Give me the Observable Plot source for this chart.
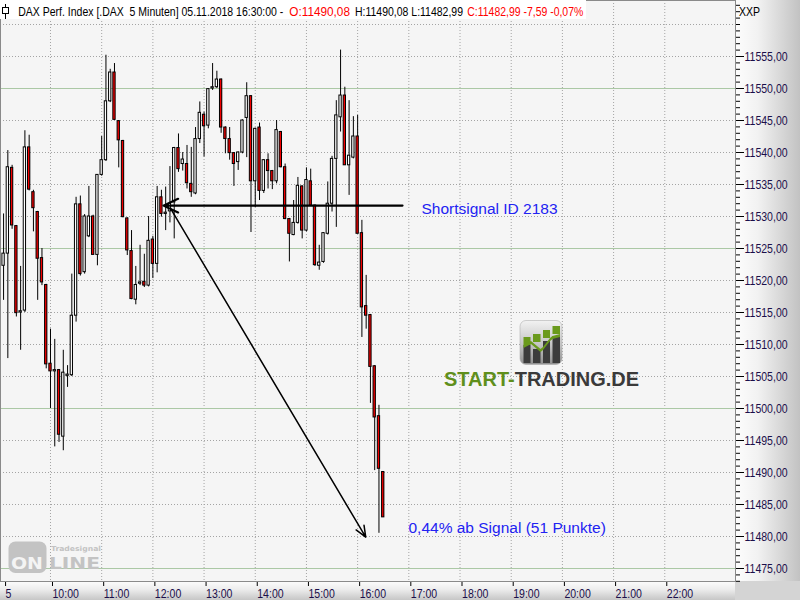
<!DOCTYPE html>
<html><head><meta charset="utf-8">
<script src="https://cdn.jsdelivr.net/npm/d3@7"></script>
<script src="https://cdn.jsdelivr.net/npm/@observablehq/plot@0.6"></script>
<style>
body{margin:0;background:#fff;}
#wrap{position:relative;width:800px;height:600px;overflow:hidden;font-family:"Liberation Sans",Arial,sans-serif;}
#rpanel{position:absolute;left:735px;top:0;width:65px;height:581px;background:linear-gradient(to right,#fdfdfd,#f2f2f2 35%,#c2c2c2);}
#bpanel{position:absolute;left:0;top:581px;width:735px;height:19px;background:linear-gradient(to bottom,#fdfdfd,#ececec 45%,#c6c6c6);}
#corner{position:absolute;left:735px;top:581px;width:65px;height:19px;background:#d4d4d4;}
#chart{position:absolute;left:0;top:0;}
#overlay{position:absolute;left:0;top:0;pointer-events:none;}
</style></head>
<body>
<div id="wrap">
<div id="rpanel"></div><div id="bpanel"></div><div id="corner"></div>
<div id="chart"></div>
<svg id="overlay" width="800" height="600" xmlns="http://www.w3.org/2000/svg">
  <defs>
    <linearGradient id="ic" x1="0" y1="0" x2="0" y2="1">
      <stop offset="0" stop-color="#f2f2f2"/><stop offset="0.55" stop-color="#c4c4c4"/><stop offset="1" stop-color="#8e8e8e"/>
    </linearGradient>
  </defs>
  <rect x="0" y="0" width="586" height="19" fill="#fff"/>
  <line x1="5.5" y1="4" x2="5.5" y2="19" stroke="#000"/>
  <rect x="2.5" y="7.5" width="6" height="6" fill="#fff" stroke="#000"/>
  <g font-size="10.5" font-family="Liberation Sans, Arial" transform="translate(0,16.3) scale(1,1.24)">
    <text x="18.3" y="0" fill="#000" textLength="265" lengthAdjust="spacingAndGlyphs" style="white-space:pre">DAX Perf. Index [.DAX  5 Minuten] 05.11.2018 16:30:00 -</text>
    <text x="289.3" y="0" fill="#f00" textLength="60.7" lengthAdjust="spacingAndGlyphs">O:11490,08</text>
    <text x="355" y="0" fill="#000" textLength="108" lengthAdjust="spacingAndGlyphs">H:11490,08 L:11482,99</text>
    <text x="467.3" y="0" fill="#f00" textLength="116" lengthAdjust="spacingAndGlyphs">C:11482,99 -7,59 -0,07%</text>
  </g>
  <text x="739" y="15.5" font-size="13" font-family="Liberation Sans, Arial" fill="#000" textLength="21" lengthAdjust="spacingAndGlyphs">XXP</text>
  <!-- start-trading logo -->
  <rect x="520" y="320.5" width="42" height="44" rx="6" fill="url(#ic)" stroke="#b0b0b0" stroke-width="0.6"/>
  <rect x="523.5" y="337" width="7" height="8" fill="#6a9a1c"/><rect x="523.5" y="345" width="7" height="18" fill="#3c3c3c"/>
  <rect x="533" y="334" width="7.5" height="8" fill="#6a9a1c"/><rect x="533" y="349" width="7.5" height="14" fill="#3c3c3c"/>
  <rect x="543" y="330" width="7" height="8" fill="#6a9a1c"/><rect x="543" y="341" width="7" height="22" fill="#3c3c3c"/>
  <rect x="552.5" y="326" width="7.5" height="8" fill="#6a9a1c"/><rect x="552.5" y="336" width="7.5" height="27" fill="#3c3c3c"/>
  <polygon points="523.5,345 531,341 540.5,349 543,347 550,338 552.5,336 560,334 560,337 552.5,339 550,341 543,350 540.5,352 531,344 523.5,348" fill="#6a9a1c"/>
  <text x="444" y="385.5" font-size="21" font-weight="bold" font-family="Liberation Sans, Arial" textLength="195" lengthAdjust="spacingAndGlyphs"><tspan fill="#5f8f1c">START-</tspan><tspan fill="#3a3a3a">TRADING.DE</tspan></text>
  <!-- tradesignal online watermark -->
  <rect x="8.5" y="541.5" width="38" height="31.5" rx="7" fill="#c3c3c3"/>
  <text x="11" y="569" font-size="16" font-weight="bold" font-family="DejaVu Sans, Arial" fill="#f4f4f4" textLength="32" lengthAdjust="spacingAndGlyphs">ON</text>
  <text x="49" y="569" font-size="16" font-weight="bold" font-family="DejaVu Sans, Arial" fill="#c3c3c3" textLength="51" lengthAdjust="spacingAndGlyphs">LINE</text>
  <text x="51" y="551" font-size="7" font-weight="bold" font-family="DejaVu Sans, Arial" fill="#c3c3c3" textLength="50" lengthAdjust="spacingAndGlyphs">Tradesignal</text>
</svg>
</div>
<script>
// 5-minute bars of 05.11.2018, first bar 09:05, last bar 16:30
const firstBarMinute = 9 * 60 + 5;
const barStep = 5;
const open = [11522.3,11524.2,11537.6,11528.5,11515.0,11515.3,11540.8,11533.8,11530.7,11523.5,
 11519.3,11507.0,11505.8,11506.0,11495.6,11505.1,11505.2,11514.5,11531.9,11521.3,
 11526.9,11530.0,11524.0,11536.5,11538.8,11548.0,11552.5,11544.9,11541.8,11529.7,
 11524.6,11517.0,11519.5,11519.8,11519.2,11526.4,11522.6,11533.0,11530.4,11530.8,
 11532.2,11540.7,11538.2,11538.2,11535.1,11533.6,11542.1,11545.9,11544.2,11550.0,
 11550.2,11551.4,11543.9,11542.1,11539.9,11538.5,11540.0,11545.4,11548.8,11535.5,
 11543.9,11534.0,11538.8,11537.1,11535.5,11543.2,11537.7,11529.6,11527.1,11529.0,
 11534.7,11527.8,11535.5,11531.7,11522.3,11522.9,11527.3,11532.0,11539.0,11545.5,
 11548.9,11538.0,11539.2,11542.5,11527.4,11516.0,11514.6,11506.6,11498.8,11490.08];
const high = [11530.4,11540.3,11538.0,11528.6,11522.2,11543.4,11542.7,11534.1,11530.8,11525.0,
 11519.4,11512.4,11510.8,11506.1,11509.1,11506.7,11521.0,11533.0,11533.2,11530.3,
 11534.7,11530.2,11536.5,11542.5,11555.2,11553.0,11553.9,11545.0,11541.9,11529.8,
 11527.8,11522.2,11525.5,11524.1,11530.0,11526.9,11534.7,11534.1,11534.6,11537.8,
 11540.8,11542.9,11540.0,11541.1,11540.8,11543.9,11547.9,11546.3,11550.0,11553.9,
 11552.7,11551.5,11544.0,11543.9,11540.0,11540.1,11545.1,11550.9,11548.9,11543.8,
 11544.6,11538.9,11539.8,11537.2,11545.0,11543.3,11538.2,11529.7,11532.5,11536.1,
 11534.8,11537.6,11537.4,11531.8,11525.5,11527.5,11535.4,11539.4,11548.1,11556.0,
 11550.2,11548.1,11545.6,11545.8,11529.4,11520.8,11514.7,11506.7,11500.5,11490.08];
const low = [11516.9,11507.8,11528.0,11514.3,11509.1,11515.0,11534.0,11527.6,11516.9,11519.2,
 11506.2,11500.0,11494.0,11494.7,11493.4,11503.3,11505.0,11513.5,11520.7,11521.0,
 11526.7,11524.0,11522.3,11536.3,11538.6,11547.8,11545.0,11537.6,11529.8,11523.9,
 11517.0,11516.2,11519.2,11518.9,11519.0,11520.3,11521.2,11529.9,11527.8,11529.0,
 11526.5,11536.9,11537.1,11534.3,11533.0,11533.4,11541.4,11539.3,11543.7,11549.7,
 11550.0,11543.0,11539.8,11538.8,11534.7,11537.2,11539.8,11539.2,11527.5,11531.4,
 11532.5,11533.6,11534.3,11534.2,11535.1,11537.6,11529.5,11522.9,11527.0,11528.8,
 11526.5,11527.6,11531.6,11522.2,11521.6,11522.7,11527.1,11530.7,11528.3,11543.2,
 11538.0,11533.3,11539.0,11527.3,11511.1,11512.4,11500.8,11490.3,11480.5,11482.99];
const close = [11524.2,11537.7,11528.6,11514.9,11515.2,11540.8,11534.2,11531.3,11523.4,11519.7,
 11506.9,11505.8,11506.0,11495.9,11505.6,11505.3,11514.5,11531.9,11521.0,11530.0,
 11530.0,11524.0,11536.5,11538.8,11548.0,11552.5,11545.1,11541.9,11529.9,11524.7,
 11517.1,11519.3,11519.7,11519.2,11526.2,11522.6,11533.0,11530.4,11530.6,11532.0,
 11540.7,11537.4,11538.9,11535.2,11533.8,11542.1,11546.2,11544.1,11549.9,11550.2,
 11551.4,11543.9,11542.1,11539.9,11538.2,11540.0,11545.0,11548.8,11535.5,11543.7,
 11534.0,11538.8,11537.1,11535.5,11543.5,11537.7,11529.6,11527.3,11529.0,11534.8,
 11527.8,11535.7,11531.7,11522.4,11522.8,11527.4,11532.0,11539.0,11545.8,11548.9,
 11538.0,11539.5,11542.5,11527.3,11515.8,11514.5,11506.5,11498.6,11490.58,11482.99];

// x-axis ticks (minutes since midnight) and labels
const xTickMinutes = [545,600,660,720,780,840,900,960,1020,1080,1140,1200,1260,1320];
const xTickLabels = ["5","10:00","11:00","12:00","13:00","14:00","15:00","16:00","17:00","18:00","19:00","20:00","21:00","22:00"];
// y-axis levels
const yLabelLevels = [11475,11480,11485,11490,11495,11500,11505,11510,11515,11520,11525,11530,11535,11540,11545,11550,11555];
const greenLevels = [11475,11500,11525,11550];
const dottedLevels = [11480,11485,11490,11495,11505,11510,11515,11520,11530,11535,11540,11545,11555,11560];
const minorLevels = d3.range(11473, 11564, 1);
// annotations
const signalLine = [{t1: 1012.6, p1: 11531.7, t2: 732.4, p2: 11531.7}];
const moveArrow = [{t1: 741, p1: 11531.2, t2: 969.5, p2: 11479.9}];
const notes = [
  {label: "Shortsignal ID 2183", t: 1034.8, p: 11531.2},
  {label: "0,44% ab Signal (51 Punkte)", t: 1019.6, p: 11481.3}
];

const bars = open.map((o, i) => ({t: firstBarMinute + barStep * i, open: o, high: high[i], low: low[i], close: close[i]}));
const labelOf = new Map(xTickMinutes.map((m, i) => [m, xTickLabels[i]]));
const fmtY = d => d.toFixed(2).replace(".", ",");
const halfBody = 1.35;

const chart = Plot.plot({
  width: 800, height: 600,
  marginLeft: 0, marginRight: 65, marginTop: 0, marginBottom: 19,
  x: {type: "linear", domain: [541.4, 1402.9]},
  y: {domain: [11472.97, 11563.75]},
  style: {background: "transparent", fontFamily: "'Liberation Sans', Arial, sans-serif", fontSize: "13px", overflow: "visible"},
  marks: [
    Plot.frame({fill: "#f5f5f5", stroke: null}),
    Plot.ruleY(dottedLevels, {stroke: "#a4a4a4", strokeDasharray: "1,2"}),
    Plot.ruleX(xTickMinutes.slice(1), {stroke: "#a4a4a4", strokeDasharray: "1,2"}),
    Plot.ruleY(greenLevels, {stroke: "#abc8a5"}),
    Plot.ruleX(bars, {x: "t", y1: "low", y2: "high", stroke: "#000"}),
    Plot.rect(bars.filter(d => d.close >= d.open), {x1: d => d.t - halfBody, x2: d => d.t + halfBody, y1: "open", y2: "close", fill: "#fff", stroke: "#000"}),
    Plot.rect(bars.filter(d => d.close < d.open), {x1: d => d.t - halfBody, x2: d => d.t + halfBody, y1: "open", y2: "close", fill: "#f20000", stroke: "#000"}),
    Plot.arrow(signalLine, {x1: "t1", y1: "p1", x2: "t2", y2: "p2", stroke: "#000", strokeWidth: 2.2, headLength: 11, headAngle: 50}),
    Plot.arrow(moveArrow, {x1: "t1", y1: "p1", x2: "t2", y2: "p2", stroke: "#000", strokeWidth: 1.5, headLength: 12, headAngle: 45}),
    Plot.text(notes, {x: "t", y: "p", text: "label", textAnchor: "start", fontSize: 15.5, fill: "#2222f2"}),
    Plot.axisY(minorLevels, {anchor: "right", tickSize: 4, tickFormat: () => "", stroke: "#000"}),
    Plot.axisY(yLabelLevels, {anchor: "right", tickSize: 8, tickPadding: 1, tickFormat: fmtY, stroke: "#000", fill: "#1b0f4a", fontSize: 13}),
    Plot.axisX(xTickMinutes, {anchor: "bottom", tickSize: 5, tickPadding: 2, tickFormat: d => labelOf.get(d), textAnchor: "start", dx: 2, stroke: "#000", fill: "#1b0f4a", fontSize: 13}),
    Plot.frame({stroke: "#8a8a8a"})
  ]
});
document.getElementById("chart").appendChild(chart);
chart.querySelectorAll("text").forEach(t => {
  const lbl = t.closest("g") && t.closest("g").getAttribute("aria-label");
  if (lbl && lbl.includes("axis")) {
    const w = t.getComputedTextLength();
    if (w > 0) { t.setAttribute("textLength", (w * 0.81).toFixed(1)); t.setAttribute("lengthAdjust", "spacingAndGlyphs"); }
  }
});
</script>
</body></html>
